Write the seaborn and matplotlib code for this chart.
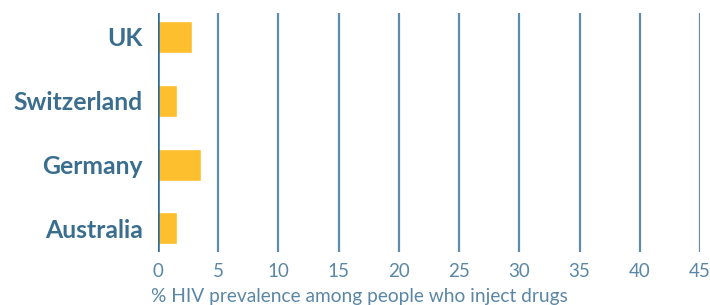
import matplotlib
matplotlib.use("Agg")
import matplotlib.pyplot as plt
import seaborn as sns
import pandas as pd

countries = ["UK", "Switzerland", "Germany", "Australia"]
values = [2.8, 1.6, 3.6, 1.6]
xticks = [0, 5, 10, 15, 20, 25, 30, 35, 40, 45]

sns.set_style("white")
plt.rcParams['font.family'] = ['Lato', 'DejaVu Sans']

df = pd.DataFrame({"country": countries, "value": values})

fig = plt.figure(figsize=(7.10, 3.05), dpi=100)
ax = fig.add_axes([158/710, 1-252/305, (700-158)/710, (252-13)/305])

for x in xticks[1:]:
    ax.axvline(x, color="#5f8cab", lw=1.6, zorder=0)
ax.axvline(0, color="#2b6a93", lw=1.8, zorder=3)

sns.barplot(data=df, x="value", y="country", orient="h", color="#fdbf2d",
            width=0.5, saturation=1, ax=ax, zorder=2)

ax.set_xlim(0, 45)
ax.set_ylim(3.37, -0.375)
ax.set_xticks(xticks)
ax.set_xticklabels([str(x) for x in xticks], fontsize=13.5, color="#5a87a5", fontweight="normal")
ax.tick_params(axis="x", length=0, pad=8)
ax.tick_params(axis="y", length=0, pad=11)
for lbl in ax.get_yticklabels():
    lbl.set_fontsize(17.8)
    lbl.set_fontweight("bold")
    lbl.set_color("#3a6d8e")
for s in ax.spines.values():
    s.set_visible(False)
ax.set_ylabel("")
ax.set_xlabel("% HIV prevalence among people who inject drugs", fontsize=13.8,
              color="#5a87a5", fontweight="normal")
ax.xaxis.set_label_coords(-0.012, -0.185)
ax.xaxis.label.set_horizontalalignment("left")
ax.xaxis.label.set_verticalalignment("center")

fig.savefig("out.png", dpi=100)
